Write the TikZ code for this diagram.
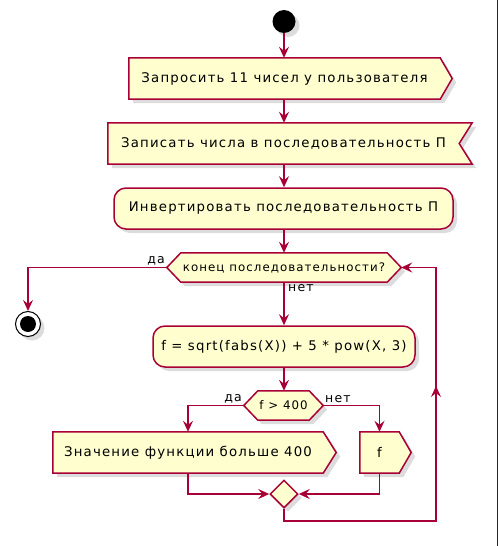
\documentclass[tikz,border=0pt]{standalone}
\usepackage{fontspec}
\setmainfont{DejaVu Sans}[LetterSpace=9]
\usetikzlibrary{arrows.meta,shadows,calc,shapes.geometric}
\pgfdeclarelayer{bg}
\pgfsetlayers{bg,main}
\definecolor{pfill}{HTML}{FEFECE}
\definecolor{pline}{HTML}{A80036}
\tikzset{
  x=1pt,y=-1pt,
  shd/.style={drop shadow={shadow xshift=4pt,shadow yshift=-4pt,opacity=0.28}},
  shp/.style={fill=pfill,draw=pline,line width=1.5pt,shd},
  txt/.style={inner sep=0pt,font=\fontsize{13.3}{16}\selectfont},
  dtxt/.style={inner sep=0pt,font=\fontsize{11.8}{14}\selectfont},
  rbox/.style={shp,rounded corners=12pt,txt},
  flow/.style={draw=pline,line width=1.5pt},
  arr/.style={flow,-{Stealth[length=11pt,width=10pt,inset=4pt]}},
  lbl/.style={inner sep=0pt,font=\fontsize{12.5}{14}\selectfont}
}
\begin{document}
\begin{tikzpicture}
\useasboundingbox (0,0) rectangle (498,546);
\draw[line width=1.2pt,black!85] (497.4,0) -- (497.4,546);

% start
\node[circle,fill=black,minimum size=23pt,inner sep=0pt,shd] (start) at (284,21.5) {};

% b1 : send signal
\node[txt,minimum width=311pt,minimum height=41pt] (b1) at (284.5,78.5) {Запросить 11 чисел у пользователя};
% b2 : receive signal
\node[txt,minimum width=351pt,minimum height=41pt] (b2) at (283.5,143.5) {Записать числа в последовательность П};
% b3 : action
\node[rbox,minimum width=339pt,minimum height=41pt] (b3) at (283.5,208.5) {Инвертировать последовательность П};
% h1 : decision
\node[dtxt,minimum width=206pt,minimum height=29pt] (h1) at (284,267.5) {конец последовательности?};
\coordinate (h1l) at ([xshift=-14pt]h1.west);
\coordinate (h1r) at ([xshift=14pt]h1.east);
% stop
\node[circle,draw=black,fill=white,line width=1pt,minimum size=25pt,inner sep=0pt,shd] (stop) at (28,324) {};
\node[circle,fill=black,minimum size=16pt,inner sep=0pt] (stopin) at (stop.center) {};
% b4
\node[rbox,minimum width=262pt,minimum height=41pt] (b4) at (284,346.5) {f = sqrt(fabs(X)) + 5 * pow(X, 3)};
% h2
\node[dtxt,minimum width=51pt,minimum height=29pt] (h2) at (283.5,405.5) {f > 400};
\coordinate (h2l) at ([xshift=-14pt]h2.west);
\coordinate (h2r) at ([xshift=14pt]h2.east);
% b5, b6
\node[txt,minimum width=270pt,minimum height=41pt] (b5) at (188,452.5) {Значение функции больше 400};
\node[txt,minimum width=39pt,minimum height=41pt] (b6) at (379.5,452.5) {f};
% merge
\node[diamond,shp,aspect=1,minimum size=28pt,inner sep=0pt] (m) at (284,494) {};

\begin{pgfonlayer}{bg}
  \path[shp] (b1.north west) -- (b1.north east) -- ([xshift=12pt]b1.east) -- (b1.south east) -- (b1.south west) -- cycle;
  \path[shp] (b2.north west) -- ([xshift=13pt]b2.north east) -- (b2.east) -- ([xshift=13pt]b2.south east) -- (b2.south west) -- cycle;
  \path[shp] (h1l) -- (h1.north west) -- (h1.north east) -- (h1r) -- (h1.south east) -- (h1.south west) -- cycle;
  \path[shp] (h2l) -- (h2.north west) -- (h2.north east) -- (h2r) -- (h2.south east) -- (h2.south west) -- cycle;
  \path[shp] (b5.north west) -- (b5.north east) -- ([xshift=13pt]b5.east) -- (b5.south east) -- (b5.south west) -- cycle;
  \path[shp] (b6.north west) -- (b6.north east) -- ([xshift=12pt]b6.east) -- (b6.south east) -- (b6.south west) -- cycle;
\end{pgfonlayer}

% connectors
\draw[arr] (start) -- (start |- b1.north);
\draw[arr] (b1.south -| start) -- (start |- b2.north);
\draw[arr] (b2.south -| start) -- (start |- b3.north);
\draw[arr] (b3.south -| start) -- (start |- h1.north);
\draw[arr] (h1l) -| (stop);
\draw[arr] (h1.south -| start) -- (start |- b4.north);
\draw[arr] (b4.south -| start) -- (start |- h2.north);
\draw[arr] (h2l) -| (b5.north);
\draw[arr] (h2r) -| (b6.north);
\draw[arr] (b5.south) |- (m.west);
\draw[arr] (b6.south) |- (m.east);
\coordinate (lp) at (436,521);
\draw[arr] (m.south) |- (lp) |- (h1r);
\coordinate (up1) at (436,400);
\coordinate (up2) at (436,386);
\draw[arr] (up1) -- (up2);

% labels
\node[lbl,anchor=south east] (l1) at (165,265) {да};
\node[lbl,anchor=north west] (l2) at (288,284) {нет};
\node[lbl,anchor=south east] (l3) at (242,403) {да};
\node[lbl,anchor=south west] (l4) at (325,403) {нет};
\end{tikzpicture}
\end{document}
